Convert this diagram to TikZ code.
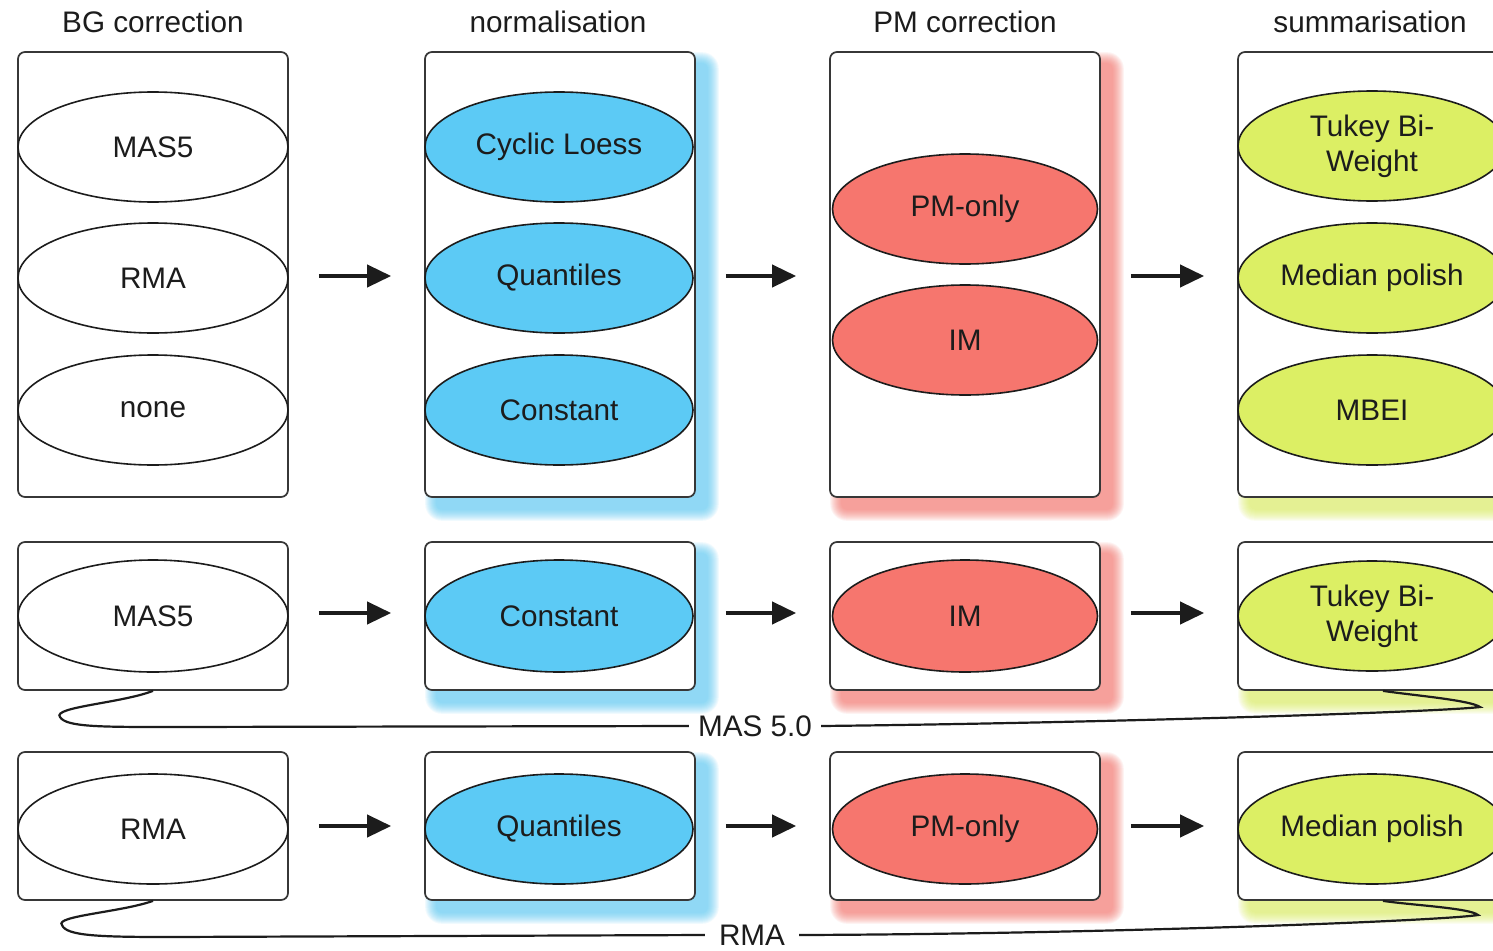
\documentclass[tikz,border=0pt]{standalone}
\usepackage{fontspec}
\setmainfont{Liberation Sans}
\usetikzlibrary{shapes.geometric,arrows.meta,calc,backgrounds}

\definecolor{ink}{RGB}{28,28,28}
\definecolor{frame}{RGB}{55,55,55}
\definecolor{normfill}{RGB}{92,202,245}
\definecolor{pmfill}{RGB}{246,118,110}
\definecolor{sumfill}{RGB}{220,239,100}

% soft coloured glow towards the lower right of a box
\newcommand\glowbehind[2]{%
  \foreach \e in {0,...,11}{%
    \fill[#1, fill opacity=0.085, rounded corners=6pt+\e pt]
      ($(#2.north west)+(12-\e,12-\e)$) rectangle ($(#2.south east)+(12+\e,12+\e)$);
  }}

\begin{document}
\begin{tikzpicture}[x=1pt,y=-1pt,
  font=\fontsize{29.7pt}{35pt}\selectfont,
  lane/.style={draw=frame, line width=1.7pt, rounded corners=7pt, fill=white,
               minimum width=270pt, inner sep=0pt},
  tall/.style={lane, minimum height=445pt},
  short/.style={lane, minimum height=148pt},
  opt/.style={ellipse, draw=ink, line width=1.6pt, inner sep=0pt,
              minimum width=268pt, minimum height=110pt, align=center, text=ink},
  bgopt/.style={opt, fill=white},
  normopt/.style={opt, fill=normfill},
  pmopt/.style={opt, fill=pmfill, minimum width=265pt},
  sumopt/.style={opt, fill=sumfill},
  head/.style={text=ink, inner sep=0pt},
  flow/.style={draw=ink, line width=4pt, -{Triangle[length=24pt,width=22pt]},
               shorten <=30pt, shorten >=33pt},
  brace/.style={draw=ink, line width=2.2pt},
  tag/.style={text=ink, inner sep=9pt}
]
\path[use as bounding box, clip] (0,0) rectangle (1493,950);

% column headings
\node[head] (hBG)  at (153,22)  {BG correction};
\node[head] (hNO)  at (558,22)  {normalisation};
\node[head] (hPM)  at (965,22)  {PM correction};
\node[head] (hSU)  at (1370,22) {summarisation};

% lanes: row 1 (all options), row 2 (MAS 5.0), row 3 (RMA)
\node[tall]  (b11) at (153,274.5)  {};
\node[tall]  (b12) at (560,274.5)  {};
\node[tall]  (b13) at (965,274.5)  {};
\node[tall]  (b14) at (1373,274.5) {};
\node[short] (b21) at (153,616)  {};
\node[short] (b22) at (560,616)  {};
\node[short] (b23) at (965,616)  {};
\node[short] (b24) at (1373,616) {};
\node[short] (b31) at (153,826)  {};
\node[short] (b32) at (560,826)  {};
\node[short] (b33) at (965,826)  {};
\node[short] (b34) at (1373,826) {};

\begin{pgfonlayer}{background}
  \fill[white] (0,0) rectangle (1493,950);
  \glowbehind{normfill}{b12}\glowbehind{normfill}{b22}\glowbehind{normfill}{b32}
  \glowbehind{pmfill}{b13}\glowbehind{pmfill}{b23}\glowbehind{pmfill}{b33}
  \glowbehind{sumfill}{b14}\glowbehind{sumfill}{b24}\glowbehind{sumfill}{b34}
\end{pgfonlayer}

% row 1 options
\node[bgopt, minimum width=270pt] (o1a) at (153,147) {MAS5};
\node[bgopt, minimum width=270pt] (o1b) at (153,278) {RMA};
\node[bgopt, minimum width=270pt] (o1c) at (153,410) {none};
\node[normopt] (o2a) at (559,147) {Cyclic Loess};
\node[normopt] (o2b) at (559,278) {Quantiles};
\node[normopt] (o2c) at (559,410) {Constant};
\node[pmopt]   (o3a) at (965,209) {PM-only};
\node[pmopt]   (o3b) at (965,340) {IM};
\node[sumopt]  (o4a) at (1372,146) {Tukey Bi-\\Weight};
\node[sumopt]  (o4b) at (1372,278) {Median polish};
\node[sumopt]  (o4c) at (1372,410) {MBEI};

% row 2: MAS 5.0
\node[bgopt, minimum width=270pt, minimum height=112pt] (p1) at (153,616) {MAS5};
\node[normopt, minimum height=112pt] (p2) at (559,616) {Constant};
\node[pmopt, minimum height=112pt]   (p3) at (965,616) {IM};
\node[sumopt, minimum height=110pt]  (p4) at (1372,616) {Tukey Bi-\\Weight};

% row 3: RMA
\node[bgopt, minimum width=270pt] (q1) at (153,829) {RMA};
\node[normopt] (q2) at (559,829) {Quantiles};
\node[pmopt]   (q3) at (965,829) {PM-only};
\node[sumopt]  (q4) at (1372,829) {Median polish};

% flow between stages
\draw[flow] ([yshift=-1.5pt]b11.east) -- ([yshift=-1.5pt]b12.west);
\draw[flow] ([yshift=-1.5pt]b12.east) -- ([yshift=-1.5pt]b13.west);
\draw[flow] ([yshift=-1.5pt]b13.east) -- ([yshift=-1.5pt]b14.west);
\draw[flow] ([yshift=3pt]b21.east) -- ([yshift=3pt]b22.west);
\draw[flow] ([yshift=3pt]b22.east) -- ([yshift=3pt]b23.west);
\draw[flow] ([yshift=3pt]b23.east) -- ([yshift=3pt]b24.west);
\draw[flow] (b31.east) -- (b32.west);
\draw[flow] (b32.east) -- (b33.west);
\draw[flow] (b33.east) -- (b34.west);

% braces grouping each pipeline
\node[tag] (mas) at (755,726) {MAS 5.0};
\coordinate (mL) at (60,717);
\coordinate (mR) at (1480,707);
\draw[brace] (b21.south) .. controls (122,703) and (52,707) .. (mL)
  .. controls (66,727) and (100,727) .. (170,727) -- (mas.west);
\draw[brace] (mas.east) .. controls (1100,723) and (1440,712) .. (mR)
  .. controls (1470,700) and (1410,695) .. ([xshift=10pt]b24.south);

\node[tag, inner sep=14pt] (rma) at (752,935) {RMA};
\coordinate (rL) at (62,925);
\coordinate (rR) at (1478,915);
\draw[brace] (b31.south) .. controls (122,912) and (54,916) .. (rL)
  .. controls (66,936) and (100,937) .. (170,937) -- (rma.west);
\draw[brace] (rma.east) .. controls (1100,934) and (1440,921) .. (rR)
  .. controls (1470,908) and (1410,905) .. ([xshift=10pt]b34.south);
\end{tikzpicture}
\end{document}
